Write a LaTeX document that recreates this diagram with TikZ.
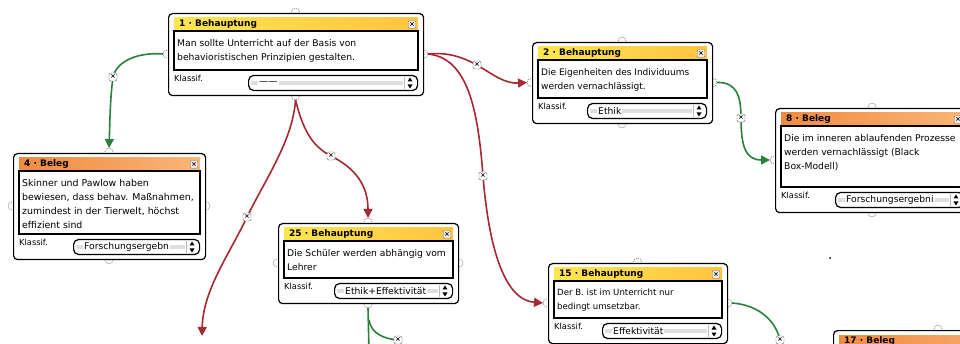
\documentclass[tikz,border=0pt]{standalone}
\usepackage{fontspec}
\setmainfont{DejaVu Sans}
\usetikzlibrary{arrows.meta,calc}
\pgfdeclarelayer{bg}
\pgfsetlayers{bg,main}
\definecolor{lnred}{RGB}{165,40,50}
\definecolor{lngreen}{RGB}{40,130,60}
\definecolor{hdyA}{RGB}{255,230,80}
\definecolor{hdyB}{RGB}{255,196,64}
\definecolor{hdoA}{RGB}{240,138,66}
\definecolor{hdoB}{RGB}{250,182,118}
\definecolor{hgray}{RGB}{150,150,150}
\tikzset{
 boxframe/.style={draw=black, line width=1.2pt, rounded corners=4pt, fill=white, inner sep=0pt},
 headY/.style={left color=hdyA, right color=hdyB},
 headO/.style={left color=hdoA, right color=hdoB},
 headtext/.style={font=\bfseries\fontsize{9}{10}\selectfont, anchor=west, inner sep=0pt},
 bodytext/.style={anchor=north west, align=left, inner sep=0pt},
 klass/.style={font=\fontsize{8.3}{9}\selectfont, anchor=west, inner sep=0pt},
 closebtn/.style={draw=gray, fill=gray!15, minimum size=7.5pt, inner sep=0pt, rounded corners=1pt, font=\fontsize{6.5}{6}\selectfont\bfseries},
 marker/.style={draw=gray!80!black, fill=white, minimum size=8pt, inner sep=0pt, rounded corners=1.5pt, font=\fontsize{6.5}{6}\selectfont\bfseries},
 handle/.style={draw=hgray, line width=0.8pt, dash pattern=on 1.2pt off 1pt},
 dropbox/.style={draw=black, line width=1.2pt, rounded corners=5pt, minimum height=15pt, fill=white, inner sep=0pt},
 ddtext/.style={anchor=west, font=\fontsize{9.2}{10}\selectfont, fill=white, inner sep=1pt},
 rdline/.style={draw=lnred, line width=1.6pt, -{Triangle[length=9pt,width=9pt]}},
 grline/.style={draw=lngreen, line width=1.6pt, -{Triangle[length=9pt,width=9pt]}},
 grplain/.style={draw=lngreen, line width=1.6pt},
}
% #1 font size, #2 name, #3 left, #4 top, #5 width, #6 height, #7 head style, #8 title, #9 body
\newcommand\argbox[9][8]{%
  \pgfmathsetmacro\bL{#3}%
  \pgfmathsetmacro\bT{#4}%
  \pgfmathsetmacro\bR{#3+#5}%
  \pgfmathsetmacro\bB{#4+#6}%
  \pgfmathsetmacro\bCx{#3+#5/2}%
  \pgfmathsetmacro\bCy{#4+#6/2}%
  \node[boxframe, minimum width=#5pt, minimum height=#6pt, anchor=north west] (#2) at (\bL,\bT) {};
  \fill[#7] (\bL+6,\bT+5) rectangle (\bR-5,\bT+18);
  \draw[line width=1.1pt] (\bL+6,\bT+18) rectangle (\bR-5,\bB-25);
  \node[headtext] (#2-title) at (\bL+11,\bT+11.5) {#8};
  \node[closebtn] (#2-close) at (\bR-11,\bT+11.5) {×};
  \node[bodytext, font=\fontsize{#1}{14}\selectfont] (#2-body) at (\bL+9,\bT+26) {#9};
  \node[klass] (#2-klass) at (\bL+6,\bB-17) {Klassif.};
  \coordinate (#2-t) at (\bCx,\bT-5);
  \coordinate (#2-b) at (\bCx,\bB+5);
  \coordinate (#2-l) at (\bL-5,\bCy);
  \coordinate (#2-r) at (\bR+5,\bCy);
  \draw[handle] (\bCx-4,\bT-1) arc[start angle=180, end angle=0, radius=4pt];
  \draw[handle] (\bCx-4,\bB+1) arc[start angle=180, end angle=360, radius=4pt];
  \draw[handle] (\bL-1,\bCy-4) arc[start angle=90, end angle=270, radius=4pt];
  \draw[handle] (\bR+1,\bCy-4) arc[start angle=90, end angle=-90, radius=4pt];
}
% #1 name, #2 left offset, #3 text
\newcommand\klassif[3]{%
  \pgfmathsetmacro\dL{\bL+#2}%
  \pgfmathsetmacro\dR{\bR-6}%
  \pgfmathsetmacro\dC{\bB-12}%
  \pgfmathsetmacro\dW{\dR-\dL}%
  \node[dropbox, minimum width=\dW pt, anchor=west] (#1-dd) at (\dL,\dC) {};
  \fill[gray!25] (\dL+3,\dC-1.6) rectangle (\dR-14,\dC+1.6);
  \draw[gray!55, line width=0.5pt] (\dR-13,\dC-6) -- (\dR-13,\dC+6);
  \node[ddtext] (#1-ddtext) at (\dL+10,\dC) {#3};
  \fill (\dR-7,\dC-5.5) -- (\dR-9.5,\dC-1.5) -- (\dR-4.5,\dC-1.5) -- cycle;
  \fill (\dR-7,\dC+5.5) -- (\dR-9.5,\dC+1.5) -- (\dR-4.5,\dC+1.5) -- cycle;
}
\begin{document}
\begin{tikzpicture}[x=1pt,y=-1pt]
\useasboundingbox (0,0) rectangle (960,344);
\begin{pgfonlayer}{bg}
\fill[white] (0,0) rectangle (960,344);
\end{pgfonlayer}

\argbox[9.2]{b1}{168}{13}{255}{82}{headY}{1 · Behauptung}{Man sollte Unterricht auf der Basis von\\behavioristischen Prinzipien gestalten.}
\klassif{b1}{80}{——}
\argbox[9]{b2}{532}{42}{180}{81}{headY}{2 · Behauptung}{Die Eigenheiten des Individuums\\werden vernachlässigt.}
\klassif{b2}{55}{Ethik}
\argbox[9.4]{b4}{13}{153}{192}{106}{headO}{4 · Beleg}{Skinner und Pawlow haben\\bewiesen, dass behav. Maßnahmen,\\zumindest in der Tierwelt, höchst\\effizient sind}
\klassif{b4}{60}{Forschungsergebn}
\argbox[9.2]{b8}{775}{108}{194}{104}{headO}{8 · Beleg}{Die im inneren ablaufenden Prozesse\\werden vernachlässigt (Black\\Box-Modell)}
\klassif{b8}{60}{Forschungsergebni}
\argbox[9.2]{b25}{278}{223}{180}{80}{headY}{25 · Behauptung}{Die Schüler werden abhängig vom\\Lehrer}
\klassif{b25}{56}{Ethik+Effektivität}
\argbox[8.6]{b15}{548}{263}{179}{80}{headY}{15 · Behauptung}{Der B. ist im Unterricht nur\\bedingt umsetzbar.}
\klassif{b15}{54}{Effektivität}
\argbox[8.5]{b17}{833}{330}{210}{100}{headO}{17 · Beleg}{}

\node[marker] (m1) at (113,77) {×};
\node[marker] (m2) at (247,217) {×};
\node[marker] (m3) at (331,156) {×};
\node[marker] (m4) at (477,65) {×};
\node[marker] (m5) at (483,176) {×};
\node[marker] (m6) at (741,118) {×};
\node[marker] (m7) at (398,340) {×};
\node[marker] (m8) at (780,340) {×};
\coordinate (off) at (202,336);
\coordinate (bot25) at (369,352);
\coordinate (split) at (369,320);
\fill (830,258) circle (1pt);

\begin{pgfonlayer}{bg}
\draw[grline] (b1-l) .. controls (140,52) and (117,60) .. (m1.center) .. controls (110,100) and (110,120) .. (b4-t);
\draw[rdline] (b1-b) .. controls (293,140) and (265,180) .. (m2.center) .. controls (229,255) and (203,290) .. (off);
\draw[rdline] (b1-b) .. controls (303,130) and (312,146) .. (m3.center) .. controls (355,168) and (368,185) .. (b25-t);
\draw[rdline] (b1-r) .. controls (448,52) and (462,57) .. (m4.center) .. controls (492,74) and (505,84) .. (b2-l);
\draw[rdline] (b1-r) .. controls (468,58) and (478,110) .. (m5.center) .. controls (489,250) and (505,300) .. (b15-l);
\draw[grline] (b2-r) .. controls (736,82) and (741,95) .. (m6.center) .. controls (741,145) and (745,160) .. (b8-l);
\draw[grplain] (b25-b) -- (bot25);
\draw[grplain] (split) .. controls (371,334) and (385,339) .. (m7.center);
\draw[grplain] (b15-r) .. controls (760,305) and (776,322) .. (m8.center);
\end{pgfonlayer}
\end{tikzpicture}
\end{document}
